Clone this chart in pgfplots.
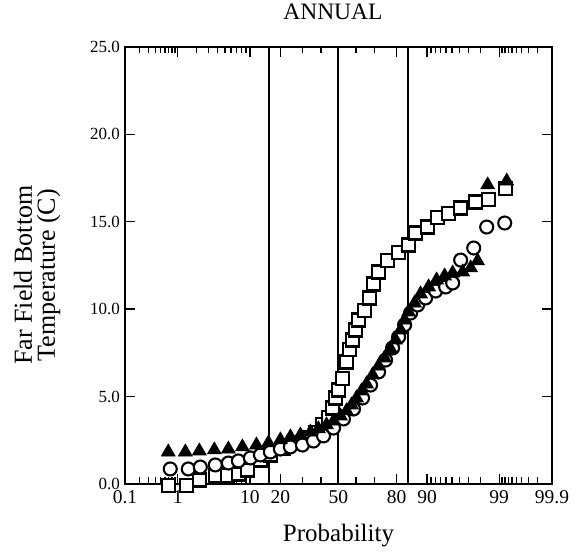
\documentclass[border=0pt]{standalone}
\usepackage{fontspec}
\setmainfont{Liberation Serif}
\usepackage{pgfplots}
\pgfplotsset{compat=1.18}

% x is the standard normal quantile of the probability
\pgfplotstableread{
z      v
-2.464 -0.10
-2.203 -0.10
-2.014 0.23
-1.783 0.46
-1.609 0.51
-1.449 0.57
-1.319 0.80
-1.130 1.37
-0.986 1.66
-0.797 2.06
-0.623 2.35
-0.478 2.63
-0.333 2.97
-0.232 3.38
-0.145 3.78
-0.087 4.35
-0.043 4.92
0.000  5.38
0.058  6.06
0.116  6.98
0.159  7.67
0.203  8.24
0.246  8.81
0.290  9.38
0.377  9.95
0.449  10.64
0.507  11.44
0.580  12.13
0.710  12.76
0.870  13.22
1.014  13.67
1.116  14.36
1.290  14.70
1.435  15.22
1.594  15.50
1.768  15.79
1.986  16.13
2.174  16.25
2.420  16.93
}\squares

\pgfplotstableread{
z      v
-2.435 0.86
-2.174 0.86
-2.000 0.97
-1.783 1.09
-1.594 1.20
-1.449 1.32
-1.275 1.49
-1.130 1.66
-0.986 1.83
-0.841 2.00
-0.696 2.12
-0.522 2.23
-0.362 2.46
-0.217 2.75
-0.072 3.20
0.072  3.72
0.217  4.29
0.348  4.92
0.464  5.66
0.580  6.41
0.681  7.09
0.783  7.78
0.870  8.41
0.957  9.10
1.043  9.78
1.145  10.24
1.261  10.64
1.406  11.04
1.551  11.27
1.652  11.50
1.768  12.81
1.957  13.50
2.145  14.70
2.406  14.93
}\circles

\pgfplotstableread{
z      v
-2.464 1.83
-2.217 1.83
-2.014 1.89
-1.797 1.95
-1.594 2.00
-1.391 2.12
-1.188 2.23
-1.014 2.35
-0.841 2.52
-0.696 2.69
-0.551 2.80
-0.406 2.97
-0.290 3.15
-0.174 3.38
-0.072 3.60
0.029  3.89
0.116  4.18
0.188  4.52
0.261  4.92
0.333  5.32
0.406  5.72
0.493  6.24
0.580  6.75
0.667  7.21
0.754  7.72
0.826  8.24
0.899  8.81
0.957  9.38
1.014  9.84
1.101  10.35
1.188  10.87
1.304  11.27
1.420  11.67
1.536  11.90
1.652  12.07
1.797  12.13
1.913  12.36
2.014  12.76
2.159  17.11
2.435  17.33
}\triangles

\begin{document}
\begin{tikzpicture}
\begin{axis}[
    name=ax,
    scale only axis, width=427pt, height=437pt,
    xmin=-3.0902, xmax=3.0902, ymin=0, ymax=25,
    xtick={-3.0902,-2.3263,-1.2816,-0.8416,0,0.8416,1.2816,2.3263,3.0902},
    xticklabels={0.1,1,10,20,50,80,90,99,99.9},
    minor xtick={-2.8782,-2.7478,-2.6521,-2.5758,-2.5121,-2.4573,-2.4089,-2.3656,
                 -2.0537,-1.8808,-1.7507,-1.6449,-1.5548,-1.4758,-1.4051,-1.3408,
                 -0.5244,-0.2533,0.2533,0.5244,
                 1.3408,1.4051,1.4758,1.5548,1.6449,1.7507,1.8808,2.0537,
                 2.3656,2.4089,2.4573,2.5121,2.5758,2.6521,2.7478,2.8782},
    ytick={0,5,10,15,20,25},
    yticklabels={0.0,5.0,10.0,15.0,20.0,25.0},
    tick align=inside, major tick length=10pt, minor tick length=6.5pt,
    every tick/.style={black, line width=1.4pt},
    axis line style={line width=2.4pt},
    x tick label style={font=\fontsize{19.5}{19.5}\selectfont, yshift=-3pt},
    y tick label style={font=\fontsize{17}{17}\selectfont, xshift=-1.5pt},
    title={ANNUAL},
    title style={font=\fontsize{23.5}{23.5}\selectfont, at={(0.487,1.050)}, anchor=base},
    xlabel={Probability},
    xlabel style={font=\fontsize{25}{25}\selectfont, at={(0.5,-0.1327)}, anchor=base},
    ylabel={Far Field Bottom\\Temperature (C)},
    ylabel style={font=\fontsize{26}{23}\selectfont, align=center,
                  at={(-0.2060,0.478)}, anchor=center, inner sep=0pt},
    clip=false,
]
\addplot[black, line width=2pt] coordinates {(-1,0) (-1,25)};
\addplot[black, line width=2pt] coordinates {(0,0) (0,25)};
\addplot[black, line width=2pt] coordinates {(1,0) (1,25)};

\addplot[only marks, mark=square*, mark size=6.5pt,
         mark options={draw=black, fill=white, line width=2.1pt}]
    table[x=z, y=v] {\squares};
\addplot[only marks, mark=*, mark size=6.5pt,
         mark options={draw=black, fill=white, line width=2.1pt}]
    table[x=z, y=v] {\circles};
\addplot[only marks, mark=triangle*, mark size=8pt,
         mark options={draw=black, fill=black, line width=0.6pt}]
    table[x=z, y=v] {\triangles};
\end{axis}
\pgfresetboundingbox
\path ([xshift=-125pt,yshift=-68pt]ax.south west) rectangle ([xshift=29pt,yshift=47pt]ax.north east);
\end{tikzpicture}
\end{document}
